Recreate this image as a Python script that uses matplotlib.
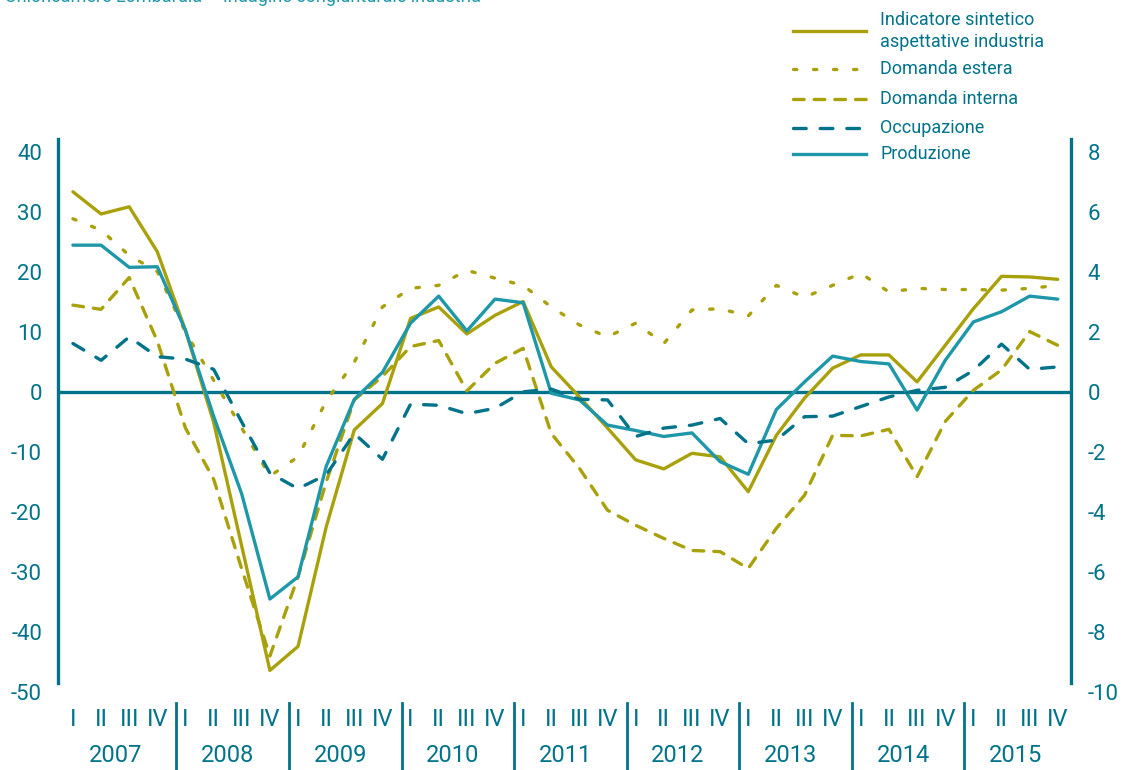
import numpy as np
import matplotlib.pyplot as plt
from matplotlib.lines import Line2D
import matplotlib.transforms as mtransforms

plt.rcParams['font.family'] = ['Roboto', 'DejaVu Sans']
plt.rcParams['axes.unicode_minus'] = False

# saldi trimestrali 2007-2015
anni = ['2007', '2008', '2009', '2010', '2011', '2012', '2013', '2014', '2015']
trimestri = ['I', 'II', 'III', 'IV']

indicatore = [33.4, 29.7, 30.9, 23.4, 10.3, -5.0, -25.7, -46.4, -42.4, -22.5, -6.3, -1.9,
              12.3, 14.2, 9.7, 12.8, 15.1, 4.2, -0.8, -6.0, -11.3, -12.8, -10.2, -10.8,
              -16.6, -7.2, -1.0, 4.0, 6.2, 6.2, 1.7, 7.8, 13.9, 19.3, 19.2, 18.8]
domanda_estera = [28.9, 27.0, 22.8, 20.1, 10.0, 2.0, -6.0, -14.0, -10.8, -1.5, 5.0, 14.2,
                  17.3, 17.8, 20.3, 19.0, 17.8, 14.2, 11.2, 9.2, 11.5, 8.1, 13.7, 13.9,
                  12.7, 17.8, 15.8, 17.8, 19.8, 16.7, 17.3, 17.1, 17.1, 17.0, 17.3, 17.8]
domanda_interna = [14.5, 13.8, 19.1, 8.5, -6.0, -14.5, -29.5, -44.0, -30.8, -15.0, -1.3, 2.6,
                   7.6, 8.6, 0.2, 4.8, 7.3, -6.9, -12.7, -19.7, -22.2, -24.4, -26.4, -26.6,
                   -29.4, -22.7, -17.2, -7.2, -7.3, -6.2, -14.1, -4.9, 0.3, 3.7, 10.1, 7.8]
occupazione = [8.1, 5.3, 9.2, 5.9, 5.5, 3.8, -5.0, -13.5, -16.1, -13.8, -6.9, -11.2,
               -2.0, -2.2, -3.6, -2.7, 0.05, 0.5, -1.2, -1.3, -7.4, -6.0, -5.5, -4.4,
               -8.6, -8.0, -4.1, -4.0, -2.4, -0.8, 0.3, 0.8, 3.6, 8.0, 3.8, 4.2]
produzione = [24.5, 24.5, 20.8, 20.9, 10.3, -4.0, -17.0, -34.5, -30.8, -12.4, -1.2, 3.3,
              11.5, 16.0, 10.2, 15.5, 14.9, -0.2, -1.3, -5.5, -6.4, -7.4, -6.8, -11.6,
              -13.7, -2.9, 1.7, 6.0, 5.1, 4.7, -3.0, 5.3, 11.7, 13.4, 16.0, 15.5]

olive = '#A9A10C'
teal = '#1E97A9'
teal_dark = '#00738A'
lw = 2.4

serie = [
    ('Domanda estera', domanda_estera,
     dict(color=olive, dashes=(1.0, 5.0), dash_capstyle='round')),
    ('Domanda interna', domanda_interna,
     dict(color=olive, dashes=(3.2, 3.0), dash_capstyle='round')),
    ('Indicatore sintetico\naspettative industria', indicatore,
     dict(color=olive, ls='-')),
    ('Produzione', produzione, dict(color=teal, ls='-')),
    ('Occupazione', occupazione,
     dict(color=teal_dark, dashes=(3.8, 4.2), dash_capstyle='round')),
]

W, H = 1128, 770
fig = plt.figure(figsize=(W / 100, H / 100), dpi=100)
ax = fig.add_axes([58 / W, 1 - 692 / H, (1071 - 58) / W, (692 - 139) / H])

x = np.arange(len(anni) * len(trimestri))
for nome, valori, stile in serie:
    ax.plot(x, valori, lw=lw, solid_capstyle='round', solid_joinstyle='round', **stile)

ax.axhline(0, color=teal_dark, lw=2.4, zorder=1)

ymin, ymax = -50, 42.2
ax.set_ylim(ymin, ymax)
ax.set_xlim(-0.53, 35.47)
ax.set_yticks(range(-50, 41, 10))
ax.set_xticks([])
ax.tick_params(axis='y', length=0, pad=11.5, labelsize=16, labelcolor=teal_dark)
for s in ['top', 'bottom', 'right']:
    ax.spines[s].set_visible(False)
ax.spines['left'].set_color(teal_dark)
ax.spines['left'].set_linewidth(2.4)
ax.spines['left'].set_bounds(-48.5, ymax)

# asse destro in scala 1:5
ax2 = ax.twinx()
ax2.set_ylim(ymin / 5, ymax / 5)
ax2.set_yticks(range(-10, 9, 2))
ax2.tick_params(axis='y', length=0, pad=12, labelsize=16, labelcolor=teal_dark)
for s in ['top', 'bottom', 'left']:
    ax2.spines[s].set_visible(False)
ax2.spines['right'].set_color(teal_dark)
ax2.spines['right'].set_linewidth(2.4)
ax2.spines['right'].set_bounds(-48.5 / 5, ymax / 5)

# etichette trimestri / anni sotto il grafico
trans = mtransforms.blended_transform_factory(ax.transData, ax.transAxes)
ax_h = 692 - 139
for k, anno in enumerate(anni):
    for q, t in enumerate(trimestri):
        ax.text(4 * k + q, (692 - 720) / ax_h, t, transform=trans, ha='center',
                va='center', fontsize=17, color=teal_dark)
    ax.text(4 * k + 1.5, (692 - 755) / ax_h, anno, transform=trans, ha='center',
            va='center', fontsize=17, color=teal_dark)
    if k < len(anni) - 1:
        ax.add_line(Line2D([4 * k + 3.68] * 2, [(692 - 703) / ax_h, (692 - 772) / ax_h],
                           transform=trans, color=teal_dark, lw=2, clip_on=False))

# legenda
leg_y = {'Indicatore sintetico\naspettative industria': 31, 'Domanda estera': 69,
         'Domanda interna': 99, 'Occupazione': 128, 'Produzione': 154}
for nome, valori, stile in serie:
    yy = 1 - leg_y[nome] / H
    fig.add_artist(Line2D([793 / W, 866 / W], [yy, yy], lw=lw, transform=fig.transFigure,
                          **stile))
    fig.text(880 / W, yy, nome, va='center', ha='left', fontsize=13,
             color=teal_dark, linespacing=1.35)

fig.text(5 / W, 1 - 1.5 / H, 'Unioncamere Lombardia – Indagine congiunturale industria',
         va='baseline', ha='left', fontsize=13, color=teal)

fig.savefig('out.png', dpi=100)
